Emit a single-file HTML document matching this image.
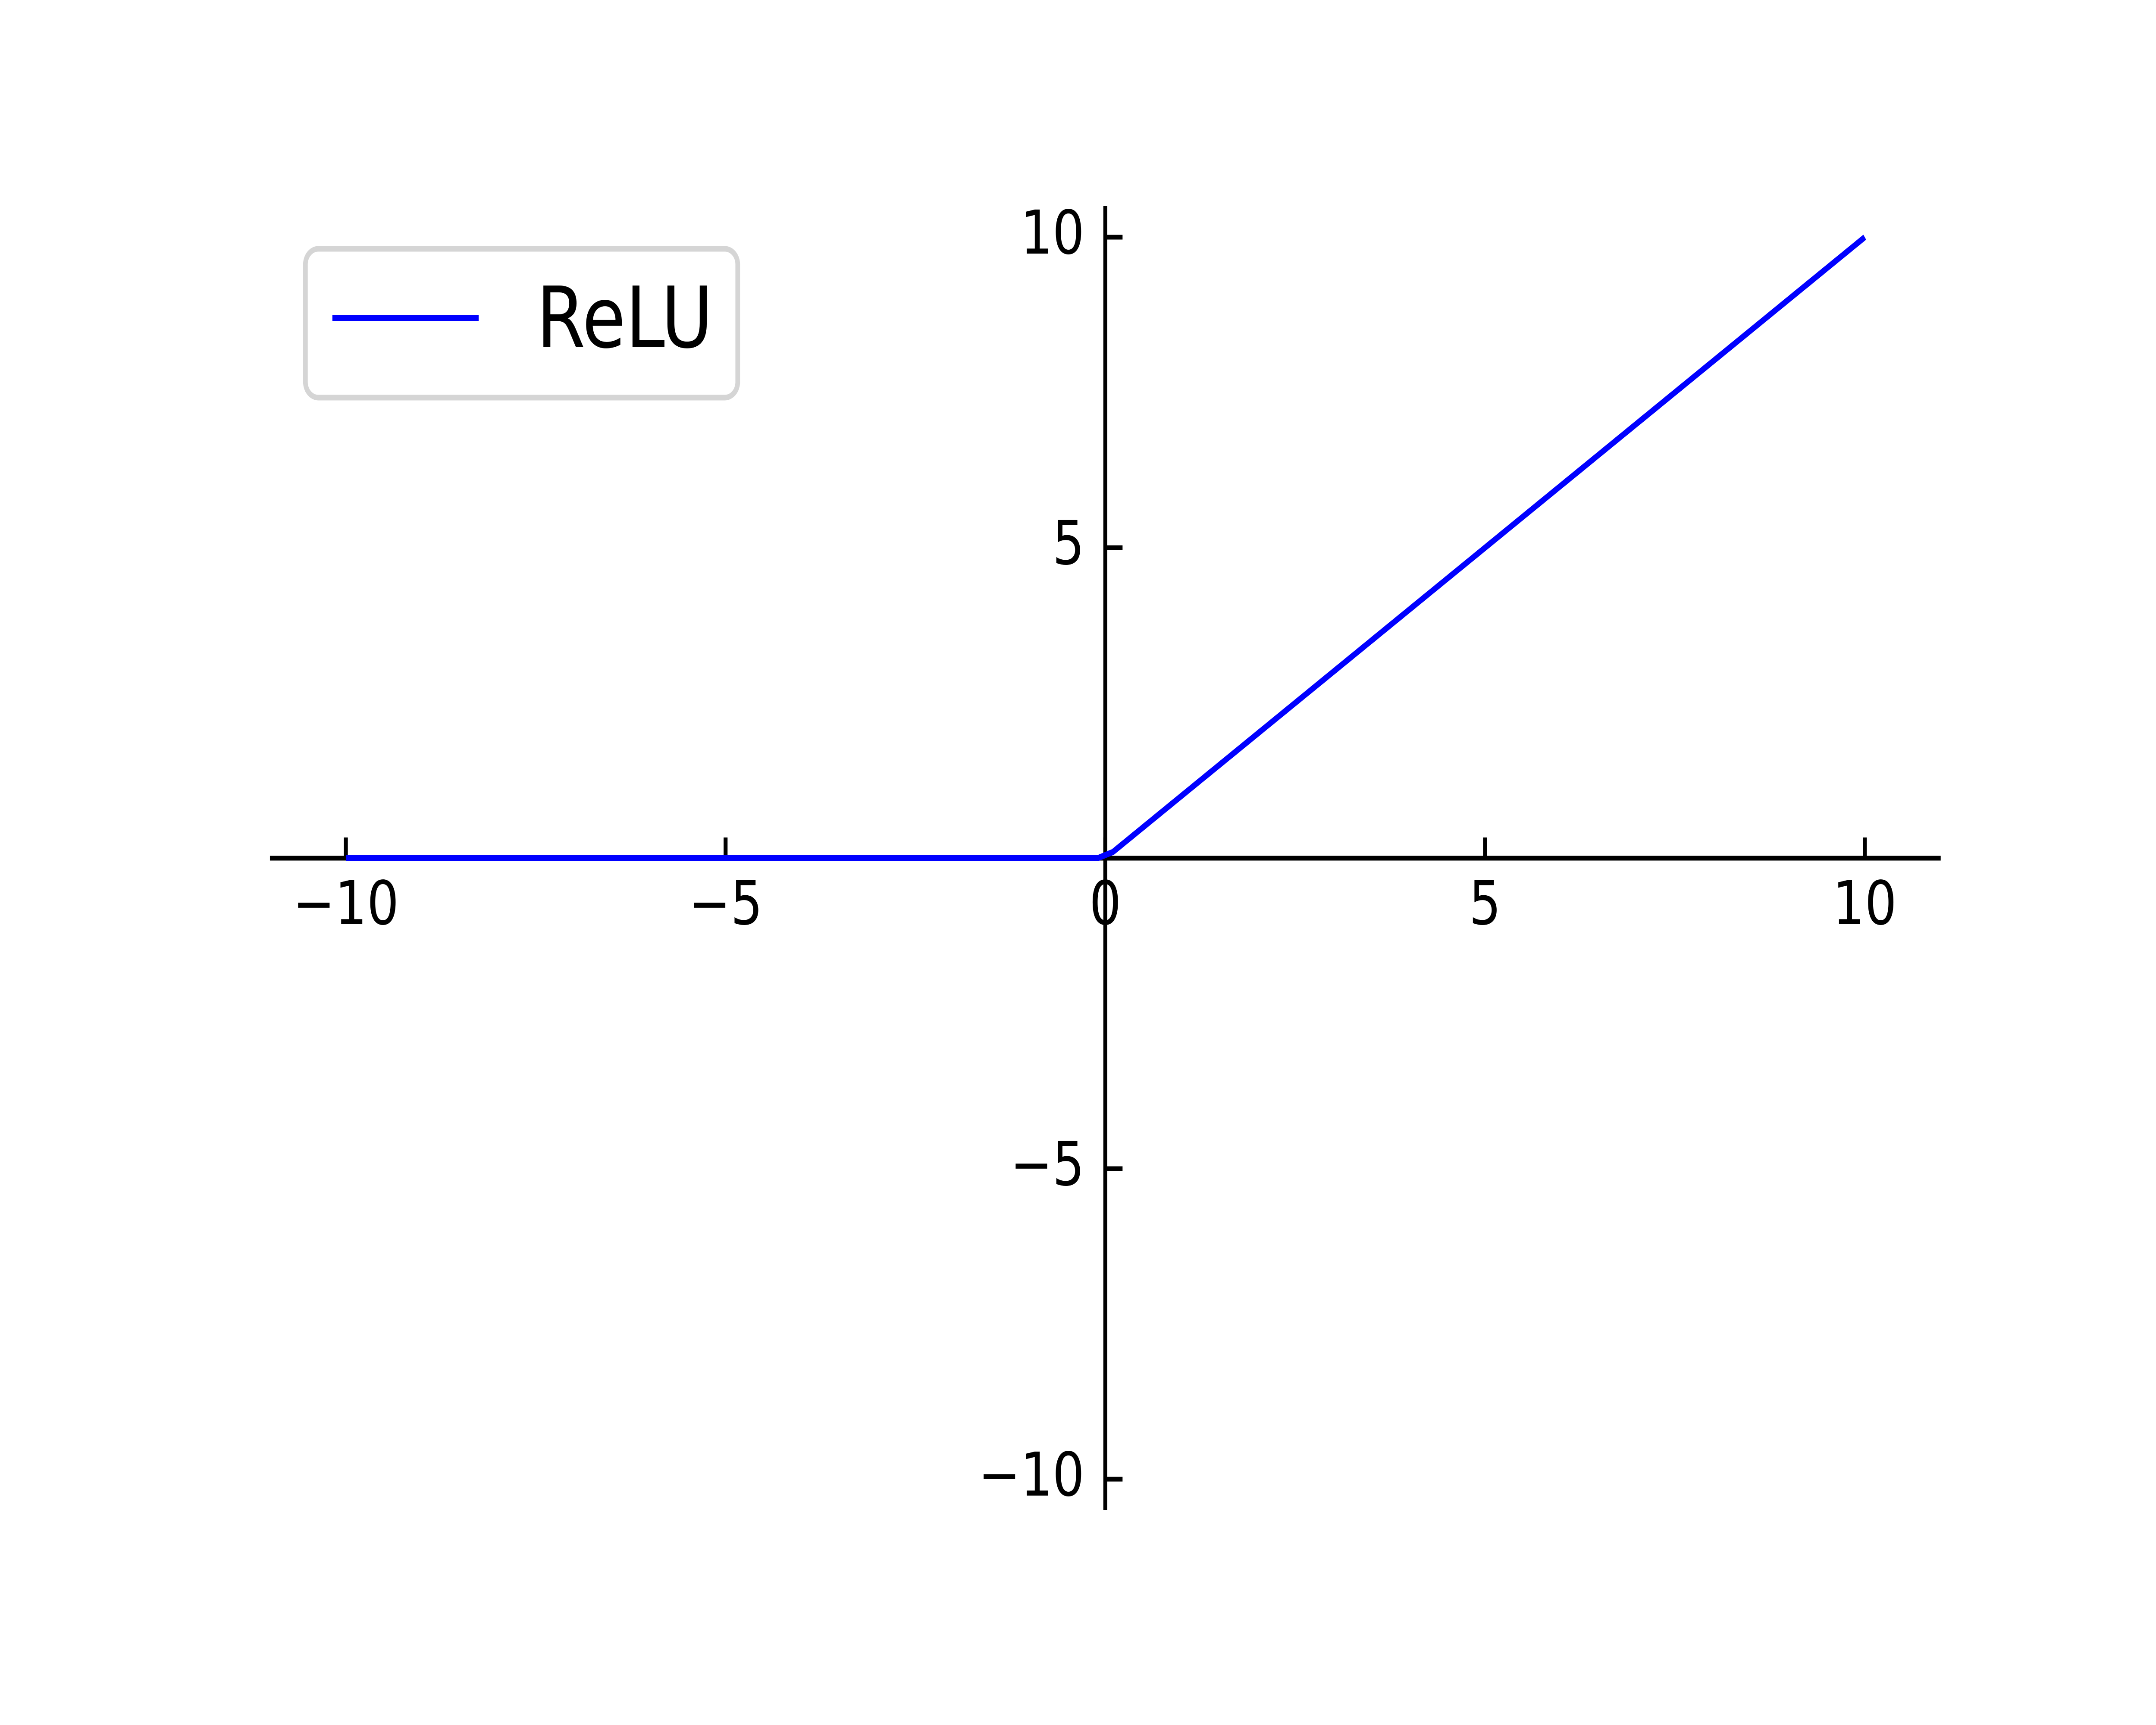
<!DOCTYPE html>
<html><head><meta charset="utf-8"><style>
html,body{margin:0;padding:0;background:#fff;overflow:hidden;}
svg{display:block;position:fixed;left:0;top:0;width:100vw;height:100vh;}
text{font-family:"DejaVu Sans","Liberation Sans",sans-serif;fill:#000;}
</style></head>
<body>
<svg id="chart" viewBox="0 0 6000 4000" preserveAspectRatio="none" xmlns="http://www.w3.org/2000/svg">
<rect width="6000" height="4000" fill="#fff"/>
<g id="axes"></g>
<path id="relu" fill="none" stroke="#0000ff" stroke-width="14" stroke-linejoin="round"/>
<g>
<rect x="850" y="577" width="1203" height="345" rx="36" ry="36" fill="#fff" stroke="#d5d5d5" stroke-width="13"/>
<line x1="925" y1="737" x2="1332" y2="737" stroke="#0000ff" stroke-width="14"/>
<text x="1493" y="805" font-size="196">ReLU</text>
</g>
</svg>
<script>
const xData = [-10, -0.1, 0.1, 10];
const yData = [0, 0, 0.1, 10];
const xTicks = [-10, -5, 0, 5, 10];
const yTicks = [-10, -5, 5, 10];
const xTickLabels = ["\u221210", "\u22125", "0", "5", "10"];
const yTickLabels = ["\u221210", "\u22125", "5", "10"];

const X0 = 3076, XS = 211.35, Y0 = 1990, YS = 144;
const xMin = -11, xMax = 11, yMin = -10.5, yMax = 10.5;
function sx(v){ return X0 + v * XS; }
function sy(v){ return Y0 - v * YS; }
const NS = "http://www.w3.org/2000/svg";
const axes = document.getElementById('axes');
function mk(tag, attrs){ const e = document.createElementNS(NS, tag); for (const k in attrs) e.setAttribute(k, attrs[k]); axes.appendChild(e); return e; }

const xs = mk('line', {x1: sx(xMin), y1: sy(0), x2: sx(xMax), y2: sy(0), stroke: '#000', 'stroke-width': 11});


const ys = mk('line', {x1: sx(0), y1: sy(yMax), x2: sx(0), y2: sy(yMin), stroke: '#000', 'stroke-width': 11});



xTicks.forEach((v, i) => {
  const t = mk('line', {x1: sx(v), y1: sy(0), x2: sx(v), y2: sy(0) - 48, stroke: '#000', 'stroke-width': 11});
  
  
  const l = mk('text', {x: sx(v), y: sy(0) + 153, 'font-size': 140, 'text-anchor': 'middle'});
  l.textContent = xTickLabels[i];
  
  
});
yTicks.forEach((v, i) => {
  const t = mk('line', {x1: sx(0), y1: sy(v), x2: sx(0) + 48, y2: sy(v), stroke: '#000', 'stroke-width': 11});
  
  
  const l = mk('text', {x: sx(0) - 58, y: sy(v) + 38, 'font-size': 140, 'text-anchor': 'end'});
  l.textContent = yTickLabels[i];
  
  
});

document.getElementById('relu').setAttribute('d', xData.map((v, i) => (i ? 'L' : 'M') + sx(v) + ' ' + sy(yData[i])).join(' '));
</script>
</body></html>
